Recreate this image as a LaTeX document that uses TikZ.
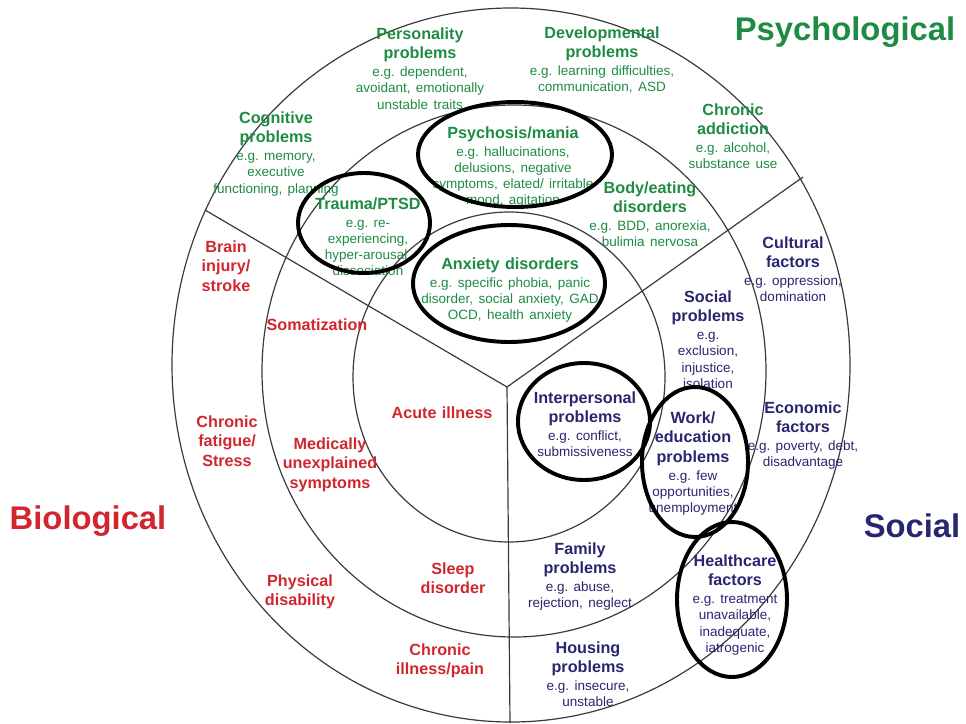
\documentclass[tikz,border=0pt]{standalone}
\usepackage{fontspec}
\setmainfont{Liberation Sans}
\usepackage{xcolor}
\usepackage{tikz}
\definecolor{psygreen}{HTML}{1E8B43}
\definecolor{biored}{HTML}{D0262D}
\definecolor{socnavy}{HTML}{28266E}
\definecolor{ringgray}{HTML}{3A3A3A}
\frenchspacing
\newcommand{\TtlFont}{\fontsize{11.5pt}{14pt}\selectfont\bfseries}
\newcommand{\EgFont}{\fontsize{9.6pt}{11.5pt}\selectfont\mdseries}
\newcommand{\Entry}[2]{{\TtlFont #1\par}\vskip1.3pt{\EgFont #2\par}}
\tikzset{
  ringLine/.style={draw=ringgray, line width=0.85pt},
  ovalEdge/.style={draw=black, line width=2.8pt},
  lbl/.style={anchor=base, inner sep=0pt, text width=5cm, align=center, font=\TtlFont},
  psyLbl/.style={lbl, text=psygreen},
  bioLbl/.style={lbl, text=biored},
  socLbl/.style={lbl, text=socnavy},
  areaLbl/.style={anchor=base, inner sep=0pt, font=\fontsize{23.3pt}{28pt}\selectfont\bfseries},
}
\newcommand{\SpokeCoords}{%
  \coordinate (hub) at (507,387);
  \coordinate (spokeL) at (205,210);
  \coordinate (spokeR) at (803,177);
  \coordinate (spokeD) at (510,723);
}

\begin{document}
\begin{tikzpicture}[x=0.025cm, y=-0.025cm]
  \useasboundingbox (0,0) rectangle (966,723);
  \SpokeCoords

  % rings and spokes
  \draw[ringLine] (511,365) ellipse [x radius=339, y radius=357];
  \draw[ringLine] (514,371) ellipse [x radius=252, y radius=266];
  \draw[ringLine] (509,377) ellipse [x radius=156, y radius=165];
  \draw[ringLine] (hub) -- (spokeL);
  \draw[ringLine] (hub) -- (spokeR);
  \draw[ringLine] (hub) -- (spokeD);

  \node[areaLbl, text=psygreen] (psyArea) at (845,40) {Psychological};
  \node[areaLbl, text=biored]   (bioArea) at (88,529) {Biological};
  \node[areaLbl, text=socnavy]  (socArea) at (912,537) {Social};

  % psychological
  \node[psyLbl] (persProb) at (420,39) {\Entry{Personality\\problems}{e.g. dependent,\\avoidant, emotionally\\unstable traits}};
  \node[psyLbl] (devProb) at (602,38) {\Entry{Developmental\\problems}{e.g. learning difficulties,\\communication, ASD}};
  \node[psyLbl] (addict) at (733,115) {\Entry{Chronic\\addiction}{e.g. alcohol,\\substance use}};
  \node[psyLbl] (cogProb) at (276,123) {\Entry{Cognitive\\problems}{e.g. memory,\\executive\\functioning, planning}};
  \node[psyLbl] (psychosis) at (513,138) {\Entry{Psychosis/mania}{e.g. hallucinations,\\delusions, negative\\symptoms, elated/ irritable\\mood, agitation}};
  \node[psyLbl] (trauma) at (368,209) {\Entry{Trauma/PTSD}{e.g. re-\\experiencing,\\hyper-arousal,\\dissociation}};
  \node[psyLbl] (eating) at (650,193) {\Entry{Body/eating\\disorders}{e.g. BDD, anorexia,\\bulimia nervosa}};
  \node[psyLbl] (anxiety) at (510,269) {\Entry{Anxiety disorders}{e.g. specific phobia, panic\\disorder, social anxiety, GAD\\OCD, health anxiety}};

  % biological
  \node[bioLbl] (brain) at (226,252) {Brain\\injury/\\stroke};
  \node[bioLbl] (somat) at (317,330) {Somatization};
  \node[bioLbl] (fatigue) at (227,427) {Chronic\\fatigue/\\Stress};
  \node[bioLbl] (unexpl) at (330,449) {Medically\\unexplained\\symptoms};
  \node[bioLbl] (acute) at (442,418) {Acute illness};
  \node[bioLbl] (sleep) at (453,574) {Sleep\\disorder};
  \node[bioLbl] (disab) at (300,586) {Physical\\disability};
  \node[bioLbl] (chronPain) at (440,655) {Chronic\\illness/pain};

  % social
  \node[socLbl] (cultural) at (793,248) {\Entry{Cultural\\factors}{e.g. oppression,\\domination}};
  \node[socLbl] (socProb) at (708,302) {\Entry{Social\\problems}{e.g.\\exclusion,\\injustice,\\isolation}};
  \node[socLbl] (interpers) at (585,403) {\Entry{Interpersonal\\problems}{e.g. conflict,\\submissiveness}};
  \node[socLbl] (work) at (693,423) {\Entry{Work/\\education\\problems}{e.g. few\\opportunities,\\unemployment}};
  \node[socLbl] (economic) at (803,413) {\Entry{Economic\\factors}{e.g. poverty, debt,\\disadvantage}};
  \node[socLbl] (family) at (580,554) {\Entry{Family\\problems}{e.g. abuse,\\rejection, neglect}};
  \node[socLbl] (health) at (735,566) {\Entry{Healthcare\\factors}{e.g. treatment\\unavailable,\\inadequate,\\iatrogenic}};
  \node[socLbl] (housing) at (588,653) {\Entry{Housing\\problems}{e.g. insecure,\\unstable}};

  % highlighted conditions
  \draw[ovalEdge] (515,154.5) ellipse [x radius=97, y radius=52.5];
  \draw[ovalEdge] (364,223) ellipse [x radius=66, y radius=50];
  \draw[ovalEdge] (509,283.5) ellipse [x radius=96, y radius=58.5];
  \draw[ovalEdge] (584,421.5) ellipse [x radius=66, y radius=58.5];
  \draw[ovalEdge] (695,462) ellipse [x radius=53, y radius=75];
  \draw[ovalEdge] (732,599.5) ellipse [x radius=55, y radius=77.5];
\end{tikzpicture}
\end{document}
